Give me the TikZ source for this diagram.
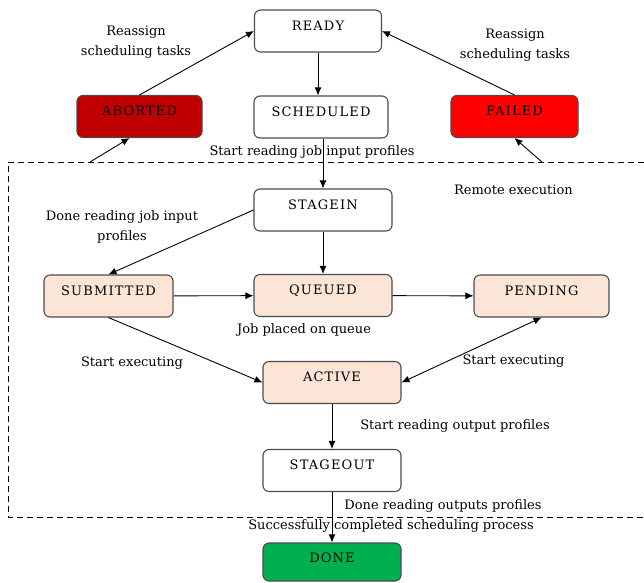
\documentclass[tikz,border=0pt]{standalone}
\usepackage{fontspec}
\setmainfont{DejaVu Serif}
\newfontfamily\statefont[LetterSpace=9]{DejaVu Serif}
\usetikzlibrary{arrows.meta}

\definecolor{peachfill}{HTML}{FBE5D6}
\definecolor{abortfill}{HTML}{C00000}
\definecolor{failfill}{HTML}{FF0000}
\definecolor{donefill}{HTML}{00B050}

\begin{document}
\begin{tikzpicture}[x=1pt,y=-1pt,>={Latex[length=8pt,width=7pt]},line width=0.9pt,
  state/.style={draw=black!70,line width=1.1pt,rounded corners=6pt,inner sep=0pt,text height=20pt,text depth=22pt,
    minimum width=138pt,font=\statefont\fontsize{13}{15}\selectfont},
  peach/.style={state,fill=peachfill},
  txt/.style={inner sep=0pt,align=center,font=\fontsize{13}{20}\selectfont}]

\useasboundingbox (0,0) rectangle (644,582);

\draw[dash pattern=on 6pt off 4pt,line width=1pt] (644,162) -- (8,162) -- (8,517) -- (644,517);
\coordinate (abortfrom) at (90,162);
\coordinate (failfrom) at (542,162);

\node[state,minimum width=127pt] (ready) at (318,31) {READY};
\node[state,minimum width=134pt] (scheduled) at (321,117) {SCHEDULED};
\node[state,minimum width=125pt,fill=abortfill] (aborted) at (139.5,116.5) {ABORTED};
\node[state,minimum width=127pt,fill=failfill] (failed) at (514.5,116.5) {FAILED};
\node[state] (stagein) at (323,210) {STAGEIN};
\node[peach,minimum width=129pt] (submitted) at (108.5,296) {SUBMITTED};
\node[peach] (queued) at (323,295.5) {QUEUED};
\node[peach,minimum width=135pt] (pending) at (541.5,296) {PENDING};
\node[peach] (active) at (332,382.5) {ACTIVE};
\node[state] (stageout) at (332,470.5) {STAGEOUT};
\node[state,fill=donefill,text height=19pt,text depth=19pt] (done) at (332,562) {DONE};

\draw[->] (ready.south) -- (ready.south |- scheduled.north);
\draw[->] (stagein.north |- scheduled.south) -- (stagein.north);
\draw[->] (stagein) -- (queued);
\draw[->] (stagein.west) -- (submitted.north);
\draw[->] (submitted) -- (queued);
\draw[->] (queued) -- (pending);
\draw[->] (submitted.south) -- (active.west);
\draw[<->] (active.east) -- (pending.south);
\draw[->] (active) -- (stageout);
\draw[->] (stageout) -- (done);
\draw[->] (abortfrom) -- ([xshift=-10pt]aborted.south);
\draw[->] (aborted.north) -- (ready.west);
\draw[->] (failfrom) -- (failed.south);
\draw[->] (failed.north) -- (ready.east);

\node[txt] (reassignl) at (136,42) {Reassign\\scheduling tasks};
\node[txt] (reassignr) at (515,45) {Reassign\\scheduling tasks};
\node[txt] (readin) at (312,152) {Start reading job input profiles};
\node[txt] (remote) at (513.5,190) {Remote execution};
\node[txt] (donein) at (122,227) {Done reading job input\\profiles};
\node[txt] (onqueue) at (304,330) {Job placed on queue};
\node[txt] (execl) at (132,363) {Start executing};
\node[txt] (execr) at (513.5,361) {Start executing};
\node[txt] (readout) at (455,426) {Start reading output profiles};
\node[txt] (doneout) at (443,506) {Done reading outputs profiles};
\node[txt] (success) at (391,526) {Successfully completed scheduling process};

\end{tikzpicture}
\end{document}
